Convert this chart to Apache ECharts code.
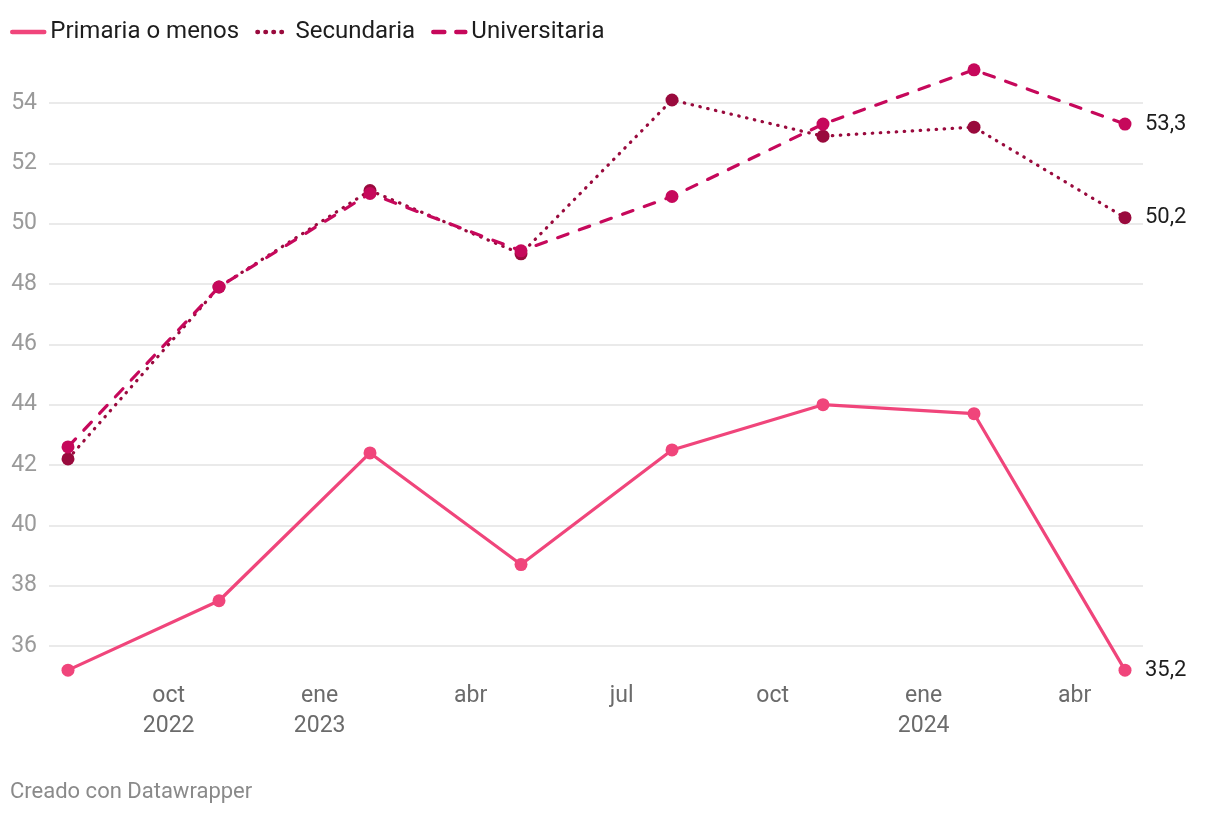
<!DOCTYPE html>
<html><head><meta charset="utf-8">
<script src="https://cdn.jsdelivr.net/npm/echarts@6/dist/echarts.min.js"></script>
<style>html,body{margin:0;padding:0;background:#fff}#c{width:1220px;height:816px}</style>
</head><body><div id="c"></div>
<script>
// x values: months since Jan 2022 (data points = quarterly)
const months = [7, 10, 13, 16, 19, 22, 25, 28];
const tickLabels = {9: 'oct\n2022', 12: 'ene\n2023', 15: 'abr', 18: 'jul', 21: 'oct', 24: 'ene\n2024', 27: 'abr'};
const primaria = [35.2, 37.5, 42.4, 38.7, 42.5, 44.0, 43.7, 35.2];
const secundaria = [42.2, 47.9, 51.1, 49.0, 54.1, 52.9, 53.2, 50.2];
const universitaria = [42.6, 47.9, 51.0, 49.1, 50.9, 53.3, 55.1, 53.3];
const seriesNames = ['Primaria o menos', 'Secundaria', 'Universitaria'];

const colors = ['#f0457b', '#990a3d', '#c6085b'];
const font = 'Roboto, sans-serif';
const pairs = arr => arr.map((v, i) => [months[i], v]);
const fmt = v => String(v.toFixed(1)).replace('.', ',');

function mkSeries(name, data, color, type, z) {
  return {
    name, type: 'line', data: pairs(data), xAxisIndex: 0, yAxisIndex: 0,
    clip: false, symbol: 'circle', symbolSize: 13, z,
    itemStyle: {color},
    lineStyle: {color, width: 3.2, type, cap: 'round'},
    emphasis: {disabled: true},
    endLabel: {show: true, distance: 20, color: '#1d1d1d', fontFamily: font, fontSize: 22,
      formatter: p => fmt(p.value[1])}
  };
}

const chart = echarts.init(document.getElementById('c'));
chart.setOption({
  animation: false,
  backgroundColor: '#fff',
  textStyle: {fontFamily: font},
  legend: {
    left: 5, top: 15, itemWidth: 32, itemHeight: 16, itemGap: 16,
    textStyle: {fontFamily: font, fontSize: 24, color: '#1d1d1d', padding: [0, 0, 0, 1]},
    itemStyle: {opacity: 0},
    lineStyle: {width: 4.5},
    data: seriesNames
  },
  grid: [
    {left: 17.67, right: 95, top: 103, bottom: 170},
    {left: 49, right: 77, top: 103, bottom: 170}
  ],
  xAxis: [
    {type: 'value', gridIndex: 0, min: 6, max: 28, interval: 3,
      axisLine: {show: false}, axisTick: {show: false}, splitLine: {show: false},
      axisLabel: {margin: 35, fontFamily: font, fontSize: 23, color: '#6b6b6b', lineHeight: 30,
        showMaxLabel: false, formatter: v => tickLabels[v] || ''}},
    {type: 'value', gridIndex: 1, min: 0, max: 1, show: false}
  ],
  yAxis: [
    {type: 'value', gridIndex: 0, min: 36, max: 54, interval: 2, show: false},
    {type: 'value', gridIndex: 1, min: 36, max: 54, interval: 2,
      axisLine: {show: false}, axisTick: {show: false},
      splitLine: {lineStyle: {color: '#e3e3e3', width: 1.5}},
      axisLabel: {margin: 12, fontFamily: font, fontSize: 23, color: '#9a9a9a'}}
  ],
  series: [
    mkSeries(seriesNames[0], primaria, colors[0], 'solid', 3),
    mkSeries(seriesNames[1], secundaria, colors[1], [0.5, 7.5], 4),
    mkSeries(seriesNames[2], universitaria, colors[2], [11, 12], 5)
  ],
  graphic: [{type: 'text', left: 10, top: 781,
    style: {text: 'Creado con Datawrapper', fontFamily: font, fontSize: 22, fill: '#8a8a8a'}}]
});
</script></body></html>
